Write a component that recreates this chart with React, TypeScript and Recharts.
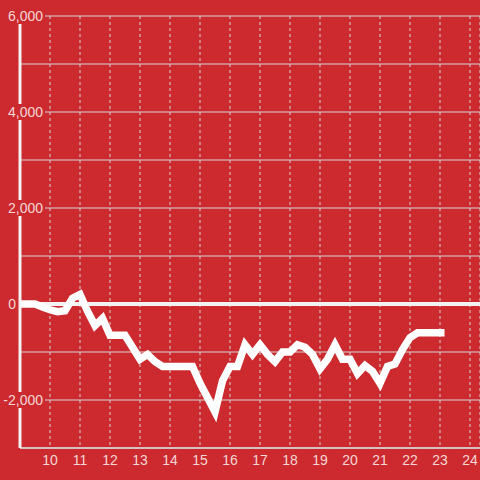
import React from "react";
import {
    LineChart,
    Line,
    XAxis,
    YAxis,
    CartesianGrid,
    ReferenceLine,
} from "recharts";

// time of day (hours) and running value
const hours = [
    9, 9.25, 9.5, 9.75, 10, 10.25, 10.5, 10.75, 11, 11.25, 11.5, 11.75,
    12, 12.25, 12.5, 12.75, 13, 13.25, 13.5, 13.75, 14, 14.25, 14.5, 14.75,
    15, 15.25, 15.5, 15.75, 16, 16.25, 16.5, 16.75, 17, 17.25, 17.5, 17.75,
    18, 18.25, 18.5, 18.75, 19, 19.25, 19.5, 19.75, 20, 20.25, 20.5, 20.75,
    21, 21.25, 21.5, 21.75, 22, 22.25, 22.5, 22.75, 23, 23.15,
];
const values = [
    0, 0, 0, -60, -120, -160, -140, 120, 200, -150, -450, -300,
    -650, -650, -650, -900, -1150, -1050, -1200, -1300, -1300, -1300, -1300, -1300,
    -1650, -1950, -2250, -1600, -1300, -1300, -850, -1050, -850, -1050, -1200, -1000,
    -1000, -850, -900, -1050, -1350, -1150, -850, -1150, -1150, -1450, -1280, -1400,
    -1650, -1300, -1250, -950, -700, -600, -600, -600, -600, -600,
];

const xTicks = [10, 11, 12, 13, 14, 15, 16, 17, 18, 19, 20, 21, 22, 23, 24];
const yTicks = [-3000, -2000, -1000, 0, 1000, 2000, 3000, 4000, 5000, 6000];
const yLabelled = [-2000, 0, 2000, 4000, 6000];

const data = hours.map((h, i) => ({ hour: h, value: values[i] }));

const BG = "#cc2a2e";
const LABEL = "#f4d6d6";
const GRID = "#d6d6d6";

function YTick({ y, payload }: any) {
    const v = payload.value;
    if (!yLabelled.includes(v)) return <g />;
    const isZero = v === 0;
    return (
        <g>
            <rect x={0} y={y - 8} width={isZero ? 17 : 45} height={16} fill={BG} />
            <text
                x={isZero ? 16 : 43}
                y={y + 5}
                textAnchor="end"
                fill={LABEL}
                fontSize={14}
            >
                {v.toLocaleString("en-US")}
            </text>
        </g>
    );
}

function XTick({ x, payload }: any) {
    return (
        <text x={x} y={465} textAnchor="middle" fill={LABEL} fontSize={14}>
            {payload.value}
        </text>
    );
}

export default function App() {
    return (
        <div
            style={{
                position: "absolute",
                left: 0,
                top: 0,
                width: 480,
                height: 480,
                background: BG,
                fontFamily: '"Liberation Sans", Arial, sans-serif',
            }}
        >
            <LineChart
                width={480}
                height={480}
                data={data}
                margin={{ top: 16, right: 0, bottom: 0, left: 0 }}
            >
                <CartesianGrid vertical={false} stroke={GRID} strokeWidth={1} />
                <CartesianGrid horizontal={false} stroke={GRID} strokeDasharray="3 3" />
                <XAxis
                    type="number"
                    dataKey="hour"
                    domain={[9, 24.333]}
                    ticks={xTicks}
                    allowDataOverflow
                    height={32}
                    tickSize={0}
                    tickMargin={0}
                    tickLine={false}
                    axisLine={{ stroke: GRID, strokeWidth: 1.5 }}
                    tick={<XTick />}
                    interval={0}
                />
                <YAxis
                    type="number"
                    domain={[-3000, 6000]}
                    ticks={yTicks}
                    width={20}
                    tickSize={0}
                    tickLine={false}
                    axisLine={{ stroke: "#f2f2f2", strokeWidth: 3 }}
                    tick={<YTick />}
                    interval={0}
                />
                <ReferenceLine y={0} stroke="#f2f2f2" strokeWidth={4} />
                <Line
                    type="linear"
                    dataKey="value"
                    stroke="#ffffff"
                    strokeWidth={7.5}
                    dot={false}
                    isAnimationActive={false}
                />
            </LineChart>
        </div>
    );
}
